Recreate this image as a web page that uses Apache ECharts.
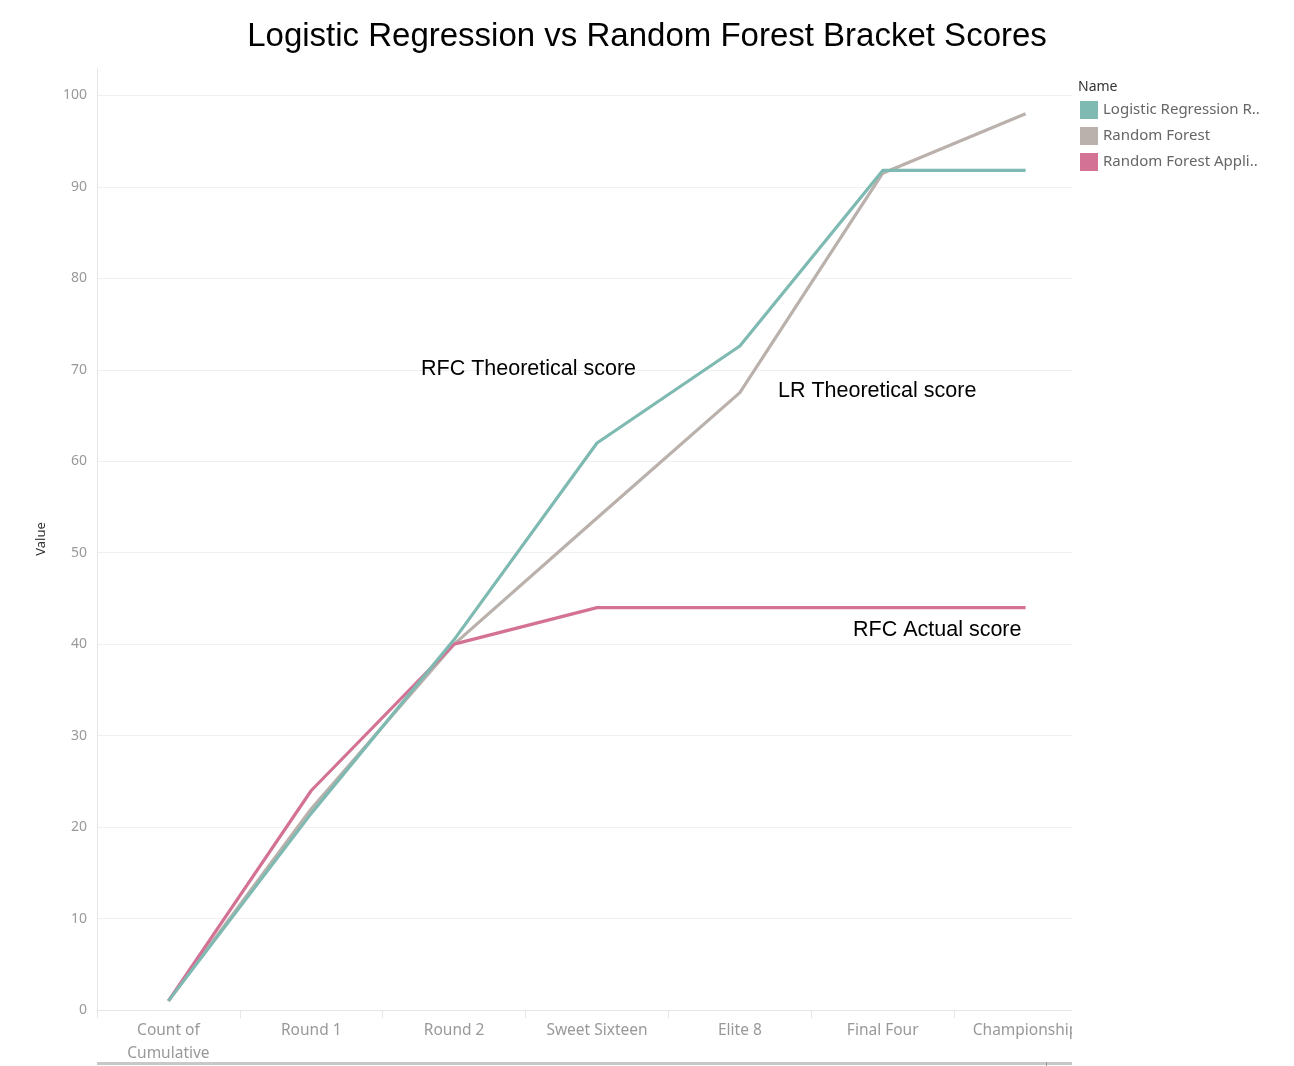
<!DOCTYPE html>
<html>
<head>
<meta charset="utf-8">
<script src="https://cdn.jsdelivr.net/npm/echarts@6/dist/echarts.min.js"></script>
<style>
html,body{margin:0;padding:0;background:#fff;}
#chart{width:1294px;height:1066px;}
</style>
</head>
<body>
<div id="chart"></div>
<script>
const categories = ['Count of\nCumulative', 'Round 1', 'Round 2', 'Sweet Sixteen', 'Elite 8', 'Final Four', 'Championship'];
const seriesNames = ['Logistic Regression R..', 'Random Forest', 'Random Forest Appli..'];
const logisticRegression = [1, 21.5, 40.5, 62, 72.6, 91.8, 91.8];
const randomForest = [1, 22, 40, 53.8, 67.5, 91.5, 98];
const randomForestApplied = [1, 24, 40, 44, 44, 44, 44];
const yTicks = [0, 10, 20, 30, 40, 50, 60, 70, 80, 90, 100];

const chart = echarts.init(document.getElementById('chart'), null, {renderer: 'canvas'});
const font = 'Noto Sans, Lato, sans-serif';
const titleFont = 'Liberation Sans, Arial, sans-serif';

chart.setOption({
  backgroundColor: '#ffffff',
  animation: false,
  title: {
    text: 'Logistic Regression vs Random Forest Bracket Scores',
    left: 'center',
    top: 15,
    textStyle: {fontFamily: titleFont, fontSize: 33, fontWeight: 'normal', color: '#000'}
  },
  legend: {
    orient: 'vertical',
    left: 1080,
    top: 101,
    padding: 0,
    z: 200,
    icon: 'rect',
    itemWidth: 18,
    itemHeight: 18,
    itemGap: 8,
    data: seriesNames,
    textStyle: {fontFamily: font, fontSize: 15, color: '#666'}
  },
  grid: {left: 97, top: 68, right: 197, bottom: 56},
  xAxis: {
    type: 'category',
    data: categories,
    boundaryGap: true,
    axisLine: {show: true, lineStyle: {color: '#e6e6e6', width: 1}},
    axisTick: {show: true, length: 8, lineStyle: {color: '#e6e6e6'}},
    axisLabel: {fontFamily: font, fontSize: 15.5, color: '#999', margin: 9, lineHeight: 23, interval: 0},
    splitLine: {show: false}
  },
  yAxis: {
    type: 'value',
    min: 0,
    max: 103,
    interval: 10,
    name: 'Value',
    nameLocation: 'middle',
    nameRotate: 90,
    nameGap: 49,
    nameTextStyle: {fontFamily: font, fontSize: 13, color: '#333'},
    axisLine: {show: true, lineStyle: {color: '#e6e6e6'}},
    axisTick: {show: false},
    axisLabel: {
      fontFamily: font, fontSize: 14, color: '#999', margin: 10,
      formatter: function (v) { return yTicks.indexOf(v) >= 0 ? String(v) : ''; }
    },
    splitLine: {show: true, showMaxLine: false, showMinLine: false, lineStyle: {color: '#f0f0f0', width: 1}}
  },
  series: [
    {name: seriesNames[0], type: 'line', data: logisticRegression, symbol: 'none', z: 5,
     itemStyle: {color: '#7fbab2'}, lineStyle: {color: '#7fbab2', width: 3.2}},
    {name: seriesNames[1], type: 'line', data: randomForest, symbol: 'none', z: 3,
     itemStyle: {color: '#bab0ac'}, lineStyle: {color: '#bab0ac', width: 3.2}},
    {name: seriesNames[2], type: 'line', data: randomForestApplied, symbol: 'none', z: 4,
     itemStyle: {color: '#d37295'}, lineStyle: {color: '#d37295', width: 3.2}}
  ],
  graphic: [
    {type: 'rect', z: 100, shape: {x: 1072, y: 60, width: 60, height: 1000}, style: {fill: '#fff'}},
    {type: 'rect', z: 101, shape: {x: 97, y: 1062, width: 975, height: 3}, style: {fill: '#c8c8c8'}},
    {type: 'rect', z: 102, shape: {x: 1046, y: 1062, width: 1, height: 4}, style: {fill: '#999'}},
    {type: 'text', z: 101, left: 1078, top: 80, style: {text: 'Name', fontFamily: font, fontSize: 14, fill: '#333'}},
    {type: 'text', z: 101, x: 421, y: 369, style: {text: 'RFC Theoretical score', fontFamily: titleFont, fontSize: 21.5, fill: '#000', verticalAlign: 'middle'}},
    {type: 'text', z: 101, x: 778, y: 391, style: {text: 'LR Theoretical score', fontFamily: titleFont, fontSize: 21.5, fill: '#000', verticalAlign: 'middle'}},
    {type: 'text', z: 101, x: 853, y: 630, style: {text: 'RFC Actual score', fontFamily: titleFont, fontSize: 21.5, fill: '#000', verticalAlign: 'middle'}}
  ]
});
</script>
</body>
</html>
